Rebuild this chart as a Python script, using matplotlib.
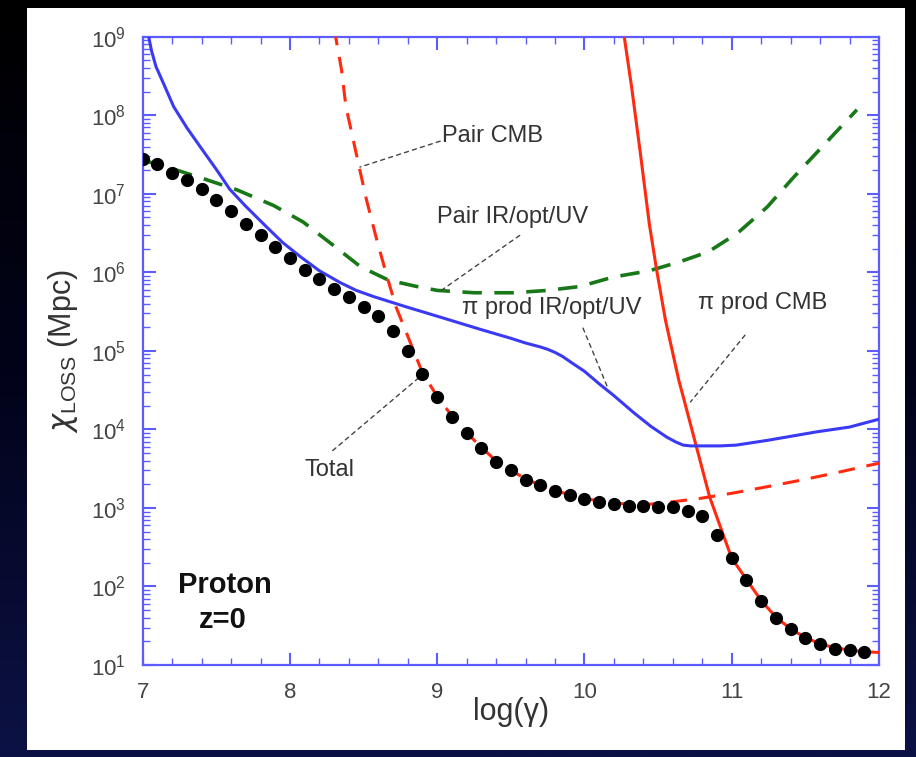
import matplotlib.pyplot as plt
import numpy as np
from matplotlib.patches import Rectangle
from matplotlib.colors import LinearSegmentedColormap
from matplotlib.ticker import MultipleLocator, LogLocator, NullFormatter

plt.rcParams['font.family'] = ['Liberation Sans', 'DejaVu Sans']
plt.rcParams['mathtext.fontset'] = 'custom'
plt.rcParams['mathtext.rm'] = 'Liberation Sans'
plt.rcParams['lines.scale_dashes'] = False

# 数据: log10(gamma) 与 log10(距离/Mpc)
total_x = [7.0, 7.1, 7.2, 7.3, 7.4, 7.5, 7.6, 7.7, 7.8, 7.9,
           8.0, 8.1, 8.2, 8.3, 8.4, 8.5, 8.6, 8.7, 8.8, 8.9,
           9.0, 9.1, 9.2, 9.3, 9.4, 9.5, 9.6, 9.7, 9.8, 9.9,
           10.0, 10.1, 10.2, 10.3, 10.4, 10.5, 10.6, 10.7, 10.8, 10.9,
           11.0, 11.1, 11.2, 11.3, 11.4, 11.5, 11.6, 11.7, 11.8, 11.9]
total_log = [7.44, 7.375, 7.27, 7.17, 7.06, 6.92, 6.78, 6.61, 6.47, 6.32,
             6.18, 6.03, 5.91, 5.79, 5.68, 5.56, 5.45, 5.25, 5.00, 4.70,
             4.41, 4.16, 3.95, 3.76, 3.59, 3.48, 3.36, 3.29, 3.22, 3.17,
             3.12, 3.08, 3.05, 3.03, 3.03, 3.01, 3.01, 2.96, 2.90, 2.66,
             2.36, 2.08, 1.81, 1.60, 1.46, 1.34, 1.27, 1.21, 1.19, 1.16]

pi_ir_x = [7.035, 7.06, 7.09, 7.14, 7.21, 7.3, 7.39, 7.5, 7.59, 7.7, 7.84,
           7.95, 8.07, 8.2, 8.34, 8.45, 8.57, 8.79, 9.02, 9.3, 9.5, 9.6,
           9.7, 9.75, 9.8, 9.85, 9.92, 10.0, 10.1, 10.2, 10.33, 10.45,
           10.56, 10.62, 10.67, 10.72, 10.92, 11.03, 11.24, 11.58, 11.8, 12.0]
pi_ir_log = [9.05, 8.82, 8.62, 8.41, 8.11, 7.84, 7.60, 7.31, 7.06, 6.84, 6.58,
             6.38, 6.20, 6.02, 5.87, 5.77, 5.69, 5.56, 5.43, 5.27, 5.16, 5.10,
             5.05, 5.02, 4.98, 4.93, 4.84, 4.74, 4.58, 4.43, 4.22, 4.04,
             3.90, 3.84, 3.80, 3.79, 3.79, 3.80, 3.86, 3.97, 4.03, 4.13]

pi_cmb_x = [10.26, 10.27, 10.32, 10.38, 10.44, 10.49, 10.55, 10.64, 10.67, 10.76,
            10.85, 10.94, 11.0, 11.1, 11.2, 11.3, 11.4, 11.5, 11.6, 11.7,
            11.8, 11.9, 12.0]
pi_cmb_log = [9.1, 9.0, 8.36, 7.51, 6.62, 6.03, 5.39, 4.63, 4.42, 3.78,
              3.14, 2.67, 2.36, 2.09, 1.82, 1.61, 1.46, 1.35, 1.27, 1.22,
              1.19, 1.17, 1.16]

pair_cmb_x = [8.30, 8.31, 8.35, 8.38, 8.42, 8.47, 8.52, 8.59, 8.66, 8.72,
              8.81, 8.9, 9.0, 9.1, 9.2, 9.3, 9.4, 9.5, 9.6, 9.7,
              9.8, 9.9, 10.0, 10.2, 10.4, 10.56, 10.78, 11.01, 11.24, 11.46,
              11.69, 12.0]
pair_cmb_log = [9.1, 9.0, 8.58, 8.11, 7.77, 7.34, 6.92, 6.41, 5.94, 5.56,
                5.14, 4.72, 4.42, 4.17, 3.96, 3.77, 3.60, 3.48, 3.37, 3.29,
                3.22, 3.17, 3.12, 3.06, 3.04, 3.07, 3.12, 3.19, 3.27, 3.35,
                3.44, 3.57]

pair_ir_x = [7.0, 7.25, 7.4, 7.64, 7.89, 8.09, 8.29, 8.48, 8.67, 8.86,
             9.0, 9.25, 9.52, 9.75, 9.97, 10.195, 10.44, 10.64, 10.84, 11.04,
             11.24, 11.42, 11.61, 11.80, 11.85]
pair_ir_log = [7.43, 7.29, 7.20, 7.05, 6.85, 6.64, 6.35, 6.07, 5.90, 5.82,
               5.77, 5.74, 5.74, 5.77, 5.82, 5.94, 6.02, 6.13, 6.26, 6.50,
               6.83, 7.21, 7.59, 7.97, 8.07]

blue = '#3a3af5'
red = '#ff2a10'
green = '#187818'
axis_blue = '#5c5cff'
txt = '#333333'

fig = plt.figure(figsize=(9.16, 7.57), dpi=100)

# 背景 (幻灯片)
bg = fig.add_axes([0, 0, 1, 1])
bg.axis('off')
cmap = LinearSegmentedColormap.from_list('bg', ['#000000', '#02031a', '#0c1245'])
bg.imshow(np.linspace(0, 1, 256).reshape(-1, 1), cmap=cmap, aspect='auto',
          extent=[0, 1, 0, 1], origin='upper')
bg.add_patch(Rectangle((27 / 916, 7 / 757), 878 / 916, 742 / 757,
                       facecolor='white', edgecolor='none'))
bg.set_xlim(0, 1)
bg.set_ylim(0, 1)

ax = fig.add_axes([0.1558, 0.1215, 0.8038, 0.83])
ax.set_facecolor('none')
ax.set_yscale('log')

ax.plot(pair_ir_x, 10 ** np.array(pair_ir_log), color=green, lw=2.6,
        dashes=(14, 9), zorder=3)
ax.plot(pair_cmb_x, 10 ** np.array(pair_cmb_log), color=red, lw=2.2,
        dashes=(12, 8.5), zorder=3)
ax.plot(pi_cmb_x, 10 ** np.array(pi_cmb_log), color=red, lw=2.2, zorder=3)
ax.plot(pi_ir_x, 10 ** np.array(pi_ir_log), color=blue, lw=2.2, zorder=3)
ax.plot(total_x, 10 ** np.array(total_log), 'o', color='black', ms=8.5, zorder=5)

ax.set_xlim(7, 12)
ax.set_ylim(1e1, 1e9)
ax.xaxis.set_minor_locator(MultipleLocator(0.2))
ax.yaxis.set_major_locator(LogLocator(base=10, numticks=20))
ax.yaxis.set_minor_locator(LogLocator(base=10, subs=np.arange(2, 10), numticks=100))
ax.yaxis.set_minor_formatter(NullFormatter())

for s in ax.spines.values():
    s.set_color(axis_blue)
    s.set_linewidth(1.6)
ax.tick_params(which='both', direction='in', top=True, right=True,
               color=axis_blue, labelcolor='#444444', labelsize=16)
ax.tick_params(which='major', length=9, width=1.5)
ax.tick_params(which='minor', length=5, width=1.0)
ax.tick_params(axis='x', pad=12)
ax.tick_params(axis='y', pad=12)

ax.set_xlabel('log(γ)', fontsize=22, color='#333333', labelpad=-4)
ax.set_ylabel('$\\chi_{\\mathregular{LOSS}}$ (Mpc)', fontsize=22, color='#333333',
              labelpad=8)

# 标注
lead = dict(arrowstyle='-', color='#444444', lw=1.0, linestyle=(0, (3, 3)),
            shrinkA=0, shrinkB=0)
labels = [('Pair CMB', 9.03, 7.73, (9.02, 7.67), (8.475, 7.34)),
          ('Pair IR/opt/UV', 9.0, 6.71, (9.56, 6.47), (9.02, 5.76)),
          ('π prod IR/opt/UV', 9.17, 5.54, (9.99, 5.29), (10.16, 4.52)),
          ('π prod CMB', 10.77, 5.61, (11.09, 5.2), (10.72, 4.35))]
for t, tx, ty, p0, p1 in labels:
    ax.text(tx, 10 ** ty, t, fontsize=17, color=txt, ha='left', va='center')
    ax.annotate('', xy=(p1[0], 10 ** p1[1]), xytext=(p0[0], 10 ** p0[1]),
                arrowprops=lead)
ax.text(8.27, 10 ** 3.48, 'Total', fontsize=17, color=txt, ha='center', va='center')
ax.annotate('', xy=(8.87, 10 ** 4.65), xytext=(8.29, 10 ** 3.73), arrowprops=lead)

ax.text(7.56, 10 ** 2.02, 'Proton', fontsize=21, fontweight='bold',
        ha='center', va='center', color='#111111')
ax.text(7.545, 10 ** 1.57, 'z=0', fontsize=21, fontweight='bold',
        ha='center', va='center', color='#111111')

fig.savefig('out.png', dpi=100, facecolor=fig.get_facecolor())
